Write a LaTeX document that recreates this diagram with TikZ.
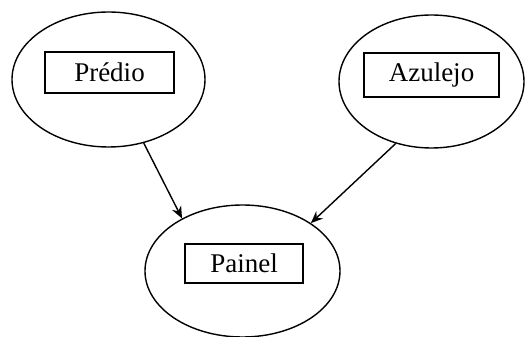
\documentclass[tikz,border=0pt]{standalone}
\usepackage{fontspec}
\setmainfont{Liberation Serif}
\usetikzlibrary{shapes.geometric,arrows.meta}
\begin{document}
\begin{tikzpicture}[x=1pt,y=1pt,
  entity/.style={ellipse,draw,line width=1.4pt,inner sep=0pt},
  labelbox/.style={rectangle,draw,line width=1.2pt,inner sep=0pt,
    font=\fontsize{27}{31}\selectfont},
  link/.style={line width=1.4pt,-{Stealth[length=12pt,width=10pt]}}]
  \useasboundingbox (0,0) rectangle (525,337);
  % entity ellipses
  \node[entity,minimum width=193pt,minimum height=135pt] (L) at (108.5,257.5) {};
  \node[entity,minimum width=185pt,minimum height=133pt] (R) at (431.5,255.5) {};
  \node[entity,minimum width=195pt,minimum height=132pt] (B) at (242.5,66) {};
  % labels in boxes
  \node[labelbox,minimum width=129pt,minimum height=41pt] (Lt) at (109.5,264.5) {Prédio};
  \node[labelbox,minimum width=135pt,minimum height=44pt] (Rt) at (431.5,262) {Azulejo};
  \node[labelbox,minimum width=118pt,minimum height=39pt] (Bt) at (244,73.5) {Painel};
  % relations
  \draw[link] (L.-61) -- (B.139);
  \draw[link] (R.-120) -- (B.35);
\end{tikzpicture}
\end{document}
